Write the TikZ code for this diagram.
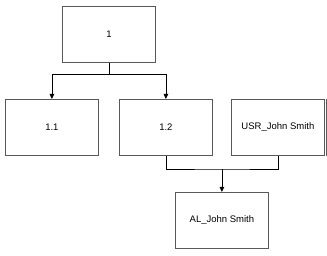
\documentclass[tikz,border=0pt]{standalone}
\usepackage{fontspec}
\setmainfont{Liberation Sans}
\usetikzlibrary{arrows.meta}
\definecolor{edge}{gray}{0.35}
\tikzset{
  box/.style={draw=edge, line width=0.8pt, minimum width=93pt, minimum height=56pt, inner sep=0pt, font=\fontsize{9.5}{11}\selectfont, anchor=north west},
  conn/.style={draw=black, line width=0.8pt, -{Triangle[length=5pt,width=4.5pt]}},
  plain/.style={draw=black, line width=0.8pt}
}
\begin{document}
\begin{tikzpicture}[x=1pt,y=-1pt]
\useasboundingbox (0,0) rectangle (327,256);
\node[box] (n1) at (62,6) {1};
\node[box] (n11) at (5,99) {1.1};
\node[box] (n12) at (119,99) {1.2};
\node[box] (usr) at (231,99) {USR\_John Smith};
\draw[edge, line width=0.8pt] ([xshift=2pt]usr.north east) -- ([xshift=2pt]usr.south east);
\node[box] (al) at (175,192) {AL\_John Smith};
\coordinate (j1) at (n1.south |- 0,74);
\draw[plain] (n1.south) -- (j1);
\draw[conn] (j1) -| (n11.north);
\draw[conn] (j1) -| (n12.north);
\coordinate (j2) at (al.north |- 0,169);
\draw[plain] (n12.south) |- (j2) -| (usr.south);
\draw[conn] (j2) -- (al.north);
\end{tikzpicture}
\end{document}
